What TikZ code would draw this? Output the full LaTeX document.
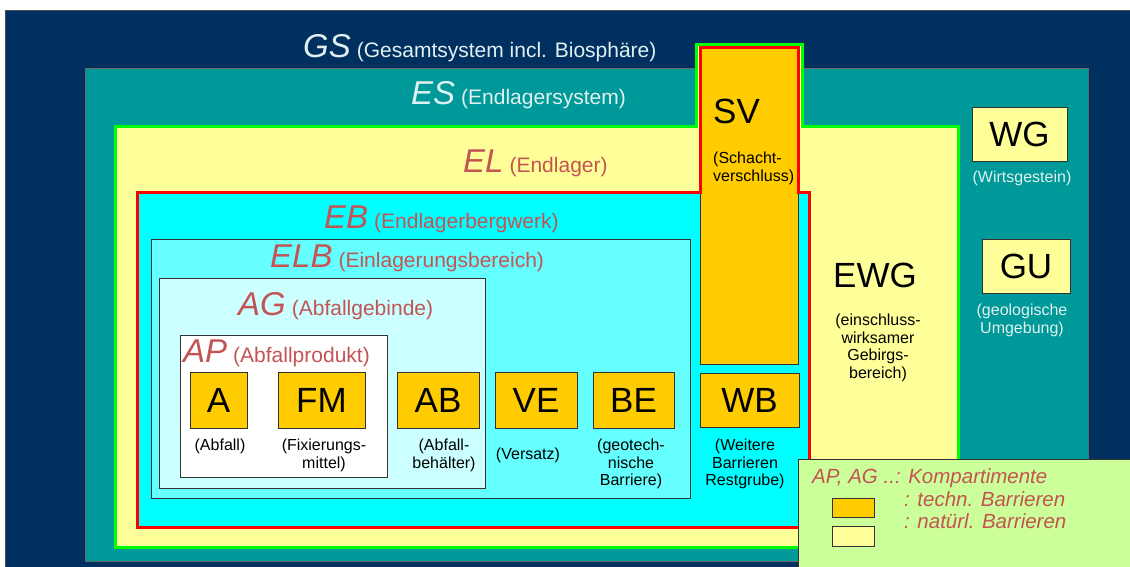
\documentclass[tikz,border=0pt]{standalone}
\usepackage{fontspec}
\setmainfont{Liberation Sans}
\definecolor{gsnavy}{RGB}{0,48,96}
\definecolor{esteal}{RGB}{0,153,153}
\definecolor{elyellow}{RGB}{255,255,153}
\definecolor{elgreen}{RGB}{0,255,0}
\definecolor{ebcyan}{RGB}{0,255,255}
\definecolor{ebred}{RGB}{255,0,0}
\definecolor{elbcyan}{RGB}{102,255,255}
\definecolor{agcyan}{RGB}{204,255,255}
\definecolor{barrorange}{RGB}{255,204,0}
\definecolor{legendgreen}{RGB}{204,255,153}
\definecolor{titlered}{RGB}{196,84,84}
\definecolor{lighttext}{RGB}{225,240,240}
\definecolor{edgegray}{RGB}{50,50,50}
\newcommand\mkttl[2]{{\fontsize{33}{36}\selectfont\itshape #1}\hspace{6pt}{\fontsize{21}{24}\selectfont #2}}
\tikzset{
  ttl/.style={inner sep=0pt, anchor=base west, text=titlered},
  ctr/.style={draw=edgegray, line width=0.8pt, inner sep=0pt},
  obox/.style={ctr, fill=barrorange, font=\fontsize{35}{38}\selectfont},
  ybox/.style={ctr, fill=elyellow, font=\fontsize{35}{38}\selectfont},
  lbl/.style={font=\fontsize{16}{17.5}\selectfont, align=center, inner sep=0pt, anchor=north, text=black},
  lgd/.style={font=\fontsize{20.5}{22}\selectfont\itshape, inner sep=0pt, anchor=base west, text=titlered}
}
\begin{document}
\begin{tikzpicture}[x=1pt,y=-1pt]
\useasboundingbox (0,0) rectangle (1130,566);
\fill[white] (0,0) rectangle (1130,566);
% GS
\draw[fill=gsnavy, draw=black!70, line width=0.8pt] (5,10) rectangle (1136,572);
% ES
\draw[fill=esteal, draw=black!60, line width=0.8pt] (85,68) rectangle (1088,561);
% EL
\draw[elgreen, line width=3pt, fill=elyellow] (115,126) -- (696,126) -- (696,44) -- (802,44) -- (802,126) -- (958,126) -- (958,547) -- (115,547) -- cycle;
% EB
\fill[ebcyan] (137,192) -- (700,192) -- (700,47) -- (798,47) -- (798,192) -- (809,192) -- (809,527) -- (137,527) -- cycle;
% ELB, AG, AP
\node[ctr, fill=elbcyan, minimum width=539pt, minimum height=259pt] (ELB) at (420.5,368.5) {};
\node[ctr, fill=agcyan, minimum width=326pt, minimum height=210pt] (AG) at (322,383) {};
\node[ctr, fill=white, minimum width=207pt, minimum height=142pt] (AP) at (283.5,406) {};
% orange boxes
\node[obox, minimum width=57pt, minimum height=56pt] (A) at (218.5,400) {A};
\node[obox, minimum width=87pt, minimum height=56pt] (FM) at (321.5,400) {FM};
\node[obox, minimum width=82pt, minimum height=56pt] (AB) at (438,400) {AB};
\node[obox, minimum width=82pt, minimum height=56pt] (VE) at (536,400) {VE};
\node[obox, minimum width=81pt, minimum height=56pt] (BE) at (633.5,400) {BE};
\node[obox, minimum width=99pt, minimum height=54pt] (WB) at (749.5,400) {WB};
\node[obox, minimum width=98pt, minimum height=317pt] (SV) at (749,205.5) {};
% EB red outline
\draw[ebred, line width=3pt] (137,192) -- (700,192) -- (700,47) -- (798,47) -- (798,192) -- (809,192) -- (809,527) -- (137,527) -- cycle;
% WG, GU
\node[ybox, minimum width=95pt, minimum height=54pt] (WG) at (1019.5,134) {WG};
\node[ybox, minimum width=88pt, minimum height=54pt] (GU) at (1026,266) {GU};
% legend
\node[ctr, fill=legendgreen, minimum width=337pt, minimum height=116pt] (LG) at (966.5,517) {};
\node[ctr, fill=barrorange, minimum width=42pt, minimum height=19pt] (SW1) at (853,507.5) {};
\node[ctr, fill=elyellow, minimum width=42pt, minimum height=20pt] (SW2) at (853,536) {};
\node[lgd] (LG1) at (812,483) {AP, AG ..: Kompartimente};
\node[lgd] (LG2) at (904,506) {: techn. Barrieren};
\node[lgd] (LG3) at (904,528) {: natürl. Barrieren};
% titles
\node[ttl, text=lighttext] (tGS) at (303,57) {\mkttl{GS}{(Gesamtsystem incl. Biosphäre)}};
\node[ttl, text=lighttext] (tES) at (411,104) {\mkttl{ES}{(Endlagersystem)}};
\node[ttl] (tEL) at (463,172) {\mkttl{EL}{(Endlager)}};
\node[ttl] (tEB) at (324,228) {\mkttl{EB}{(Endlagerbergwerk)}};
\node[ttl] (tELB) at (270,267) {\mkttl{ELB}{(Einlagerungsbereich)}};
\node[ttl] (tAG) at (238,315) {\mkttl{AG}{(Abfallgebinde)}};
\node[ttl] (tAP) at (183,362) {\mkttl{AP}{(Abfallprodukt)}};
% SV, EWG
\node[inner sep=0pt, anchor=base west, font=\fontsize{35}{38}\selectfont] (tSV) at (713,123) {SV};
\node[lbl, anchor=north west, align=left] (lSV) at (713,152) {(Schacht-\\verschluss)};
\node[inner sep=0pt, anchor=base, font=\fontsize{35}{38}\selectfont] (tEWG) at (875,287) {EWG};
\node[lbl] (lEWG) at (878,314) {(einschluss-\\wirksamer\\Gebirgs-\\bereich)};
% sublabels
\node[lbl, text=lighttext] (lWG) at (1022,171) {(Wirtsgestein)};
\node[lbl, text=lighttext] (lGU) at (1022,304) {(geologische\\Umgebung)};
\node[lbl] (lA) at (220,439) {(Abfall)};
\node[lbl] (lFM) at (324,439) {(Fixierungs-\\mittel)};
\node[lbl] (lAB) at (444,439) {(Abfall-\\behälter)};
\node[lbl] (lVE) at (528,448) {(Versatz)};
\node[lbl] (lBE) at (631,439) {(geotech-\\nische\\Barriere)};
\node[lbl] (lWB) at (745,439) {(Weitere\\Barrieren\\Restgrube)};
\end{tikzpicture}
\end{document}
